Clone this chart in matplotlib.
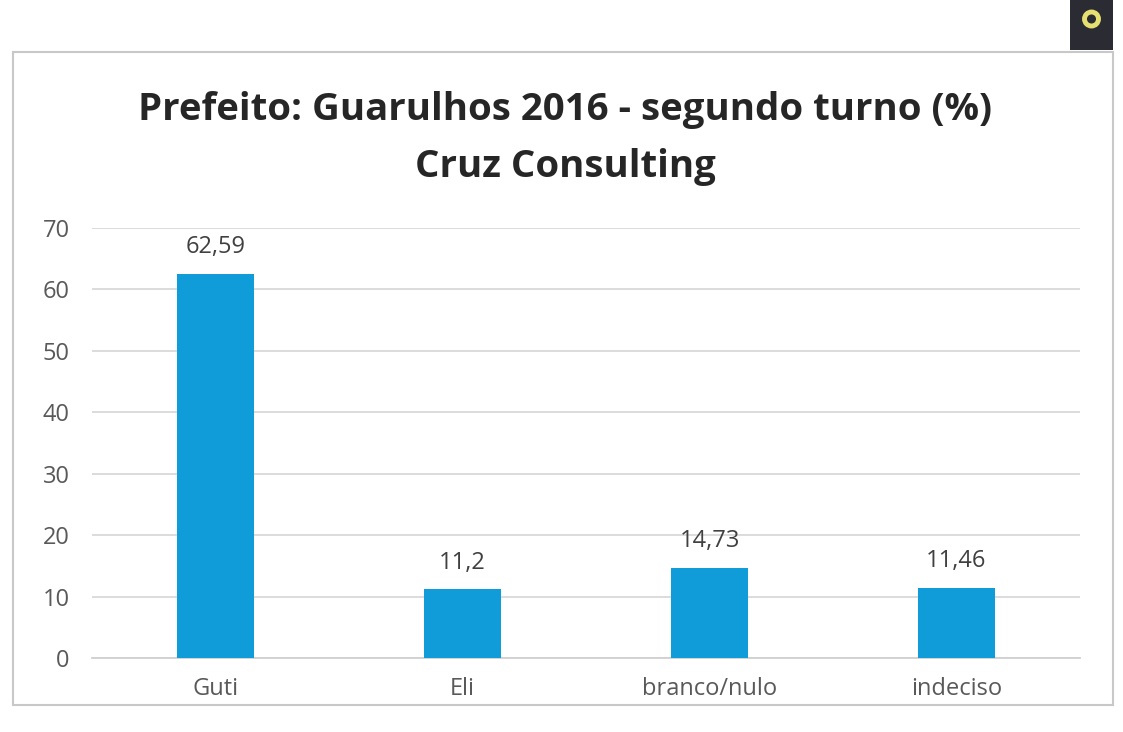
import matplotlib

matplotlib.use("Agg")
import matplotlib.pyplot as plt  # noqa: E402
from matplotlib.patches import Rectangle, Circle  # noqa: E402

categories = ["Guti", "Eli", "branco/nulo", "indeciso"]
values = [62.59, 11.2, 14.73, 11.46]
value_labels = ["62,59", "11,2", "14,73", "11,46"]
y_ticks = [0, 10, 20, 30, 40, 50, 60, 70]

plt.rcParams["font.family"] = ["Open Sans", "DejaVu Sans"]

fig = plt.figure(figsize=(11.23, 7.32), dpi=100)
W, H = 1123, 732

# chart frame
fig.patches.append(Rectangle((13 / W, 1 - 705 / H), 1100 / W, 653 / H,
                             transform=fig.transFigure, fill=False,
                             edgecolor="#c8c8c8", linewidth=1.5))

# logo in the corner
ax_logo = fig.add_axes([1070 / W, 1 - 50 / H, 43 / W, 50 / H], zorder=5)
ax_logo.set_xlim(0, 43)
ax_logo.set_ylim(0, 50)
ax_logo.axis("off")
ax_logo.add_patch(Rectangle((0, 0), 43, 50, facecolor="#2b2b33", edgecolor="none"))
ax_logo.add_patch(Circle((21.5, 31), 7, fill=False, edgecolor="#e6df72", linewidth=3.5))

ax = fig.add_axes([92 / W, 1 - 658 / H, 988 / W, 430 / H])
ax.bar(range(len(categories)), values, width=0.31, color="#109cd9", zorder=3)
for i, (v, lab) in enumerate(zip(values, value_labels)):
    ax.text(i, v + 2.3, lab, ha="center", va="bottom", fontsize=17, color="#404040")

ax.set_xlim(-0.5, len(categories) - 0.5)
ax.set_ylim(0, 70)
ax.set_yticks(y_ticks)
ax.set_xticks(range(len(categories)))
ax.set_xticklabels(categories)
ax.tick_params(axis="both", length=0, labelsize=17, colors="#595959")
ax.tick_params(axis="y", pad=16)
ax.tick_params(axis="x", pad=14)
ax.grid(axis="y", color="#d9d9d9", linewidth=1.3, zorder=0)
for side in ["top", "right", "left"]:
    ax.spines[side].set_visible(False)
ax.spines["bottom"].set_color("#d0d0d0")
ax.spines["bottom"].set_linewidth(1.3)

fig.text(565 / W, 1 - 110 / H, "Prefeito: Guarulhos 2016 - segundo turno (%)",
         ha="center", va="center", fontsize=27.6, fontweight="bold", color="#262626")
fig.text(565 / W, 1 - 167 / H, "Cruz Consulting",
         ha="center", va="center", fontsize=27.6, fontweight="bold", color="#262626")

fig.savefig("out.png", dpi=100)
